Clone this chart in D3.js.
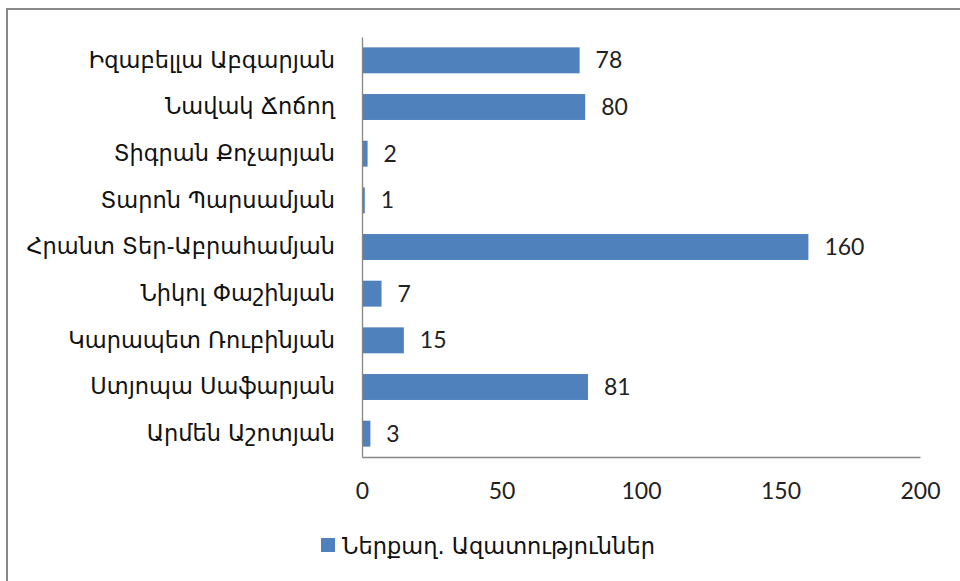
<!DOCTYPE html>
<html><head><meta charset="utf-8">
<script src="https://cdn.jsdelivr.net/npm/d3@7"></script>
<style>html,body{margin:0;padding:0;background:#fff;}svg{display:block;}</style>
</head><body>
<script>
const categories = ["Իզաբելլա Աբգարյան","Նավակ Ճոճող","Տիգրան Քոչարյան","Տարոն Պարսամյան","Հրանտ Տեր-Աբրահամյան","Նիկոլ Փաշինյան","Կարապետ Ռուբինյան","Ստյոպա Սաֆարյան","Արմեն Աշոտյան"];
const values = [78, 80, 2, 1, 160, 7, 15, 81, 3];
const xTicks = [0, 50, 100, 150, 200];
const seriesName = "Ներքաղ. Ազատություններ";

const W = 960, H = 581;
const svg = d3.select("body").append("svg").attr("width", W).attr("height", H);
svg.append("rect").attr("width", W).attr("height", H).attr("fill", "#fff");
// outer chart border (only top and left visible in frame)
svg.append("rect").attr("x", 7).attr("y", 9).attr("width", W + 20).attr("height", H + 20)
  .attr("fill", "none").attr("stroke", "#898989").attr("stroke-width", 2);

const x = d3.scaleLinear().domain([0, 200]).range([362, 920]);
const y = d3.scaleBand().domain(categories).range([37, 457]).paddingInner(0.8/1.8).paddingOuter(0.4/1.8);

const grey = "#868686";
const armFont = "'DejaVu Sans', 'Noto Sans', sans-serif";
const numFont = "Lato, 'Liberation Sans', sans-serif";

// bars
svg.selectAll("rect.bar").data(values).join("rect").attr("class", "bar")
  .attr("x", x(0)).attr("y", (d, i) => y(categories[i]))
  .attr("width", d => x(d) - x(0)).attr("height", y.bandwidth())
  .attr("fill", "#4f81bd");

// axes
const xAxis = d3.axisBottom(x).tickValues(xTicks).tickSize(0).tickPadding(26).tickFormat(d3.format("d"));
const gx = svg.append("g").attr("transform", "translate(0,457)").call(xAxis);
gx.select(".domain").attr("stroke", grey).attr("stroke-width", 1.3);
gx.selectAll("text").attr("font-family", numFont).attr("font-size", 23).attr("fill", "#222");

const yAxis = d3.axisLeft(y).tickSize(0).tickPadding(27);
const gy = svg.append("g").attr("transform", "translate(362,0)").call(yAxis);
gy.select(".domain").attr("stroke", grey).attr("stroke-width", 1.3);
gy.selectAll("text").attr("font-family", armFont).attr("font-size", 22.5).attr("fill", "#111");

// value labels
svg.selectAll("text.val").data(values).join("text").attr("class", "val")
  .attr("x", d => x(d) + 16).attr("y", (d, i) => y(categories[i]) + y.bandwidth() / 2)
  .attr("dy", "0.35em")
  .attr("font-family", numFont).attr("font-size", 23).attr("fill", "#222")
  .text(d => d);

// legend
const lg = svg.append("g").attr("transform", "translate(321,538)");
lg.append("rect").attr("width", 14).attr("height", 14).attr("fill", "#4f81bd");
lg.append("text").attr("x", 21).attr("y", 8).attr("dy", "0.35em")
  .attr("font-family", armFont).attr("font-size", 22.5).attr("fill", "#111").text(seriesName);
</script>
</body></html>
